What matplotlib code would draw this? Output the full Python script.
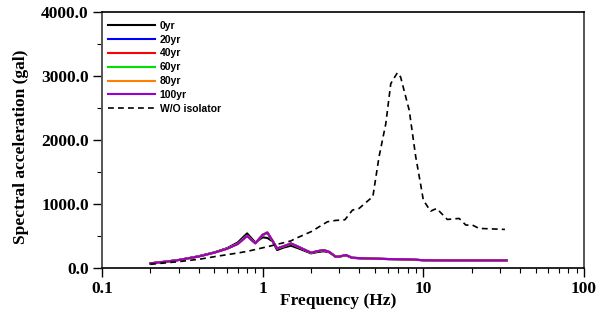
import numpy as np
import matplotlib
matplotlib.use("Agg")
from matplotlib import pyplot as plt
from matplotlib.ticker import LogLocator, MultipleLocator, NullFormatter, FixedLocator, FixedFormatter

# isolated response (frequency grid shared by all ages)
freq = [0.2, 0.25, 0.3, 0.4, 0.5, 0.6, 0.7, 0.8, 0.9, 1.0, 1.07, 1.15, 1.23, 1.35, 1.5,
        1.7, 2.0, 2.2, 2.4, 2.6, 2.85, 3.0, 3.3, 3.6, 4.0, 5.0, 6.0, 8.0, 10.0, 15.0,
        20.0, 25.0, 33.0]
sa_0yr = [73, 100, 125, 185, 245, 310, 400, 542, 400, 480, 470, 420, 281, 320, 349,
          300, 229, 250, 262, 245, 172, 178, 198, 158, 152, 145, 140, 134, 122, 120,
          120, 120, 120]
sa_20yr = [73, 100, 125, 182, 242, 305, 385, 510, 390, 515, 550, 430, 305, 338, 382,
           325, 238, 262, 279, 252, 176, 180, 202, 160, 154, 146, 141, 136, 122, 120,
           120, 120, 120]
sa_40yr = [73, 100, 125, 181, 241, 303, 380, 505, 388, 518, 553, 430, 306, 339, 383,
           322, 239, 263, 280, 251, 177, 180, 203, 161, 155, 146, 141, 136, 122, 120,
           120, 120, 120]
sa_60yr = [73, 100, 125, 181, 240, 302, 378, 503, 387, 519, 555, 430, 307, 340, 384,
           321, 240, 264, 281, 250, 177, 180, 203, 161, 155, 146, 140, 136, 122, 120,
           120, 120, 120]
sa_80yr = [73, 100, 125, 180, 240, 301, 376, 501, 386, 520, 556, 430, 307, 340, 385,
           320, 240, 265, 281, 250, 177, 180, 203, 161, 155, 146, 140, 136, 122, 120,
           120, 120, 120]
sa_100yr = [73, 100, 125, 180, 240, 300, 375, 500, 386, 520, 557, 430, 307, 340, 385,
            320, 240, 265, 281, 250, 177, 180, 203, 161, 155, 146, 140, 136, 122, 120,
            120, 120, 120]

# without isolator
freq_wo = [0.2, 0.3, 0.41, 0.5, 0.7, 0.8, 1.07, 1.49, 1.64, 2.0, 2.53, 2.85, 3.25, 3.62,
           3.98, 4.7, 4.85, 5.3, 5.84, 6.27, 6.6, 6.9, 7.22, 8.17, 8.97, 9.6, 10.0,
           11.1, 12.1, 14.1, 16.7, 18.4, 20.2, 22.2, 32.2]
sa_wo = [58, 99, 140, 177, 235, 260, 333, 422, 473, 568, 724, 745, 755, 906, 932, 1089,
         1115, 1740, 2260, 2885, 2980, 3057, 2990, 2469, 1740, 1323, 1062, 890, 932,
         760, 776, 672, 672, 620, 604]

series = [("0yr", sa_0yr, "black"), ("20yr", sa_20yr, "#0000ff"),
          ("40yr", sa_40yr, "#ff0000"), ("60yr", sa_60yr, "#00e000"),
          ("80yr", sa_80yr, "#ff7f00"), ("100yr", sa_100yr, "#9a00cc")]

fig = plt.figure(figsize=(6.06, 3.22), dpi=100)
ax = fig.add_axes([0.1683, 0.1677, 0.7954, 0.7935])

for name, vals, col in series:
    ax.plot(freq, vals, "-", color=col, lw=1.5, label=name)
ax.plot(freq_wo, sa_wo, "--", color="black", lw=1.2, dashes=(3.5, 2.5), label="W/O isolator")

ax.set_xscale("log")
ax.set_xlim(0.1, 100)
ax.set_ylim(0, 4000)

serif = {"family": "Liberation Serif", "weight": "bold"}
ax.xaxis.set_major_locator(FixedLocator([0.1, 1, 10, 100]))
ax.xaxis.set_major_formatter(FixedFormatter(["0.1", "1", "10", "100"]))
ax.xaxis.set_minor_locator(LogLocator(base=10, subs=np.arange(2, 10)))
ax.xaxis.set_minor_formatter(NullFormatter())
ax.yaxis.set_major_locator(MultipleLocator(1000))
ax.yaxis.set_minor_locator(MultipleLocator(500))
ax.yaxis.set_major_formatter(matplotlib.ticker.FormatStrFormatter("%.1f"))
for lab in ax.get_xticklabels():
    lab.set_fontfamily("Liberation Serif")
    lab.set_fontweight("bold")
    lab.set_fontsize(12.5)
for lab in ax.get_yticklabels():
    lab.set_fontfamily("Liberation Serif")
    lab.set_fontweight("bold")
    lab.set_fontsize(12.5)

ax.tick_params(axis="both", which="major", direction="out", length=6.5, width=1, pad=3)
ax.tick_params(axis="both", which="minor", direction="out", length=3.5, width=0.8)
ax.tick_params(top=False, right=False)

for s in ["left", "right"]:
    ax.spines[s].set_color("#555555")
    ax.spines[s].set_linewidth(1.4)
for s in ["top", "bottom"]:
    ax.spines[s].set_linewidth(1.2)

ax.set_xlabel("Frequency (Hz)", fontsize=12.5, **serif, labelpad=0)
ax.xaxis.set_label_coords(0.49, -0.098)
ax.xaxis.label.set_verticalalignment("top")
ax.set_ylabel("Spectral acceleration (gal)", fontsize=12.5, **serif)
ax.yaxis.set_label_coords(-0.151, 0.476)

leg = ax.legend(loc="upper left", bbox_to_anchor=(0, 0.992), frameon=False,
                handlelength=4.5, handletextpad=0.45, labelspacing=0.37,
                borderaxespad=0.3, borderpad=0.3,
                prop={"family": "Liberation Sans", "weight": "bold", "size": 7.5})

fig.savefig("out.png", dpi=100)
